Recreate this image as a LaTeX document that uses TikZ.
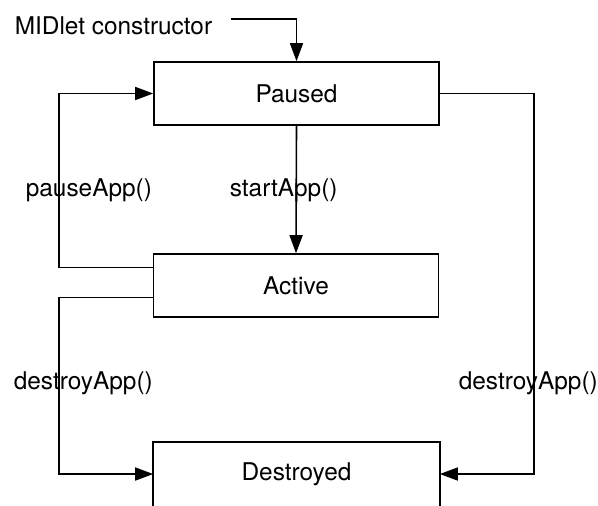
\documentclass[tikz,border=0pt]{standalone}
\usepackage{fontspec}
\setmainfont{TeX Gyre Heros}
\usetikzlibrary{arrows.meta}
\begin{document}
\begin{tikzpicture}[x=0.5pt, y=-0.5pt, line width=0.8pt,
    font=\fontsize{12.2pt}{14.5pt}\selectfont,
    state/.style={draw, minimum width=142.5pt, minimum height=31.5pt, inner sep=0pt},
    lbl/.style={anchor=base west, inner sep=0pt},
    arr/.style={-{Triangle[length=9pt, width=6.5pt]}}]
      \useasboundingbox (0,0) rectangle (598,505);
      \clip (0,0) rectangle (598,505);
      \node[state] (paused) at (296.5,93.5) {Paused};
      \node[state] (active) at (296,285.5) {Active};
      \node[state, draw=none] (destroyed) at (296.5,474) {Destroyed};
      % open bottom: the box runs past the page edge
      \draw ([yshift=-10pt]destroyed.south west) |- (destroyed.north east) -- ([yshift=-10pt]destroyed.south east);
      \node[lbl] (ctor) at (14,34) {MIDlet constructor};
      \node[lbl] (pause) at (25,196) {pauseApp()};
      \node[lbl] (start) at (229,196) {startApp()};
      \node[lbl] (destroyL) at (13,389) {destroyApp()};
      \node[lbl] (destroyR) at (458,389) {destroyApp()};
      \coordinate (lrail) at (59,0);
      \coordinate (rrail) at (534,0);
      \draw[arr] ([xshift=9pt, yshift=3pt]ctor.east) -| (paused.north);
      \draw[arr] (paused.south) -- (active.north);
      \draw[arr] ([yshift=9pt]active.west) -- ([yshift=9pt]active.west -| lrail) |- (paused.west);
      \draw[arr] ([yshift=-6pt]active.west) -- ([yshift=-6pt]active.west -| lrail) |- (destroyed.west);
      \draw[arr] (paused.east) -- (paused.east -| rrail) |- (destroyed.east);
    \end{tikzpicture}
\end{document}
